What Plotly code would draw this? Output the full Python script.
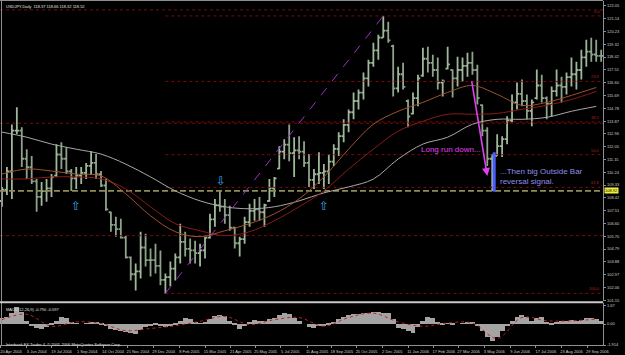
import plotly.graph_objects as go

# ---------------- data ----------------
# one bar per ~week, index 0..121 ; USDJPY from Apr 2004 to Oct 2006
highs = [109.20,110.61,113.64,114.85,113.43,111.88,111.39,109.76,109.55,109.76,
         110.11,112.23,112.37,112.02,110.47,110.61,110.61,110.89,111.74,111.53,
         110.33,109.76,107.43,107.08,106.94,105.74,104.26,103.76,106.02,105.88,
         104.82,105.17,104.68,103.05,103.90,104.47,106.58,106.02,105.53,105.38,
         105.17,105.67,107.29,108.35,108.91,108.35,107.86,106.37,105.67,107.08,
         108.00,108.35,108.49,108.00,109.76,109.90,112.09,112.59,113.64,112.73,
         112.80,112.44,111.53,110.47,111.67,110.82,111.53,112.23,113.08,114.00,
         114.70,115.90,116.12,117.32,118.23,119.43,120.00,121.34,120.92,119.29,
         117.74,118.02,115.41,115.90,117.17,119.08,119.15,118.59,118.38,116.82,
         119.15,117.53,118.45,118.38,118.73,118.80,117.88,115.06,113.43,111.53,
         112.94,112.80,114.21,115.76,116.61,116.82,115.76,115.41,117.53,117.17,
         115.62,116.33,117.53,117.03,117.32,118.38,118.09,118.94,119.65,119.79,
         119.65,118.94]
lows = [107.79,108.63,108.35,112.94,110.61,109.76,109.41,107.43,107.86,108.14,
        108.49,109.90,110.47,110.11,108.91,109.06,109.41,109.76,110.04,109.76,
        109.20,107.50,106.02,105.67,105.53,104.11,102.56,101.85,102.70,103.55,
        102.84,103.05,102.21,101.64,102.14,102.56,103.76,104.26,103.76,103.76,
        103.55,104.11,105.53,106.37,107.43,106.58,106.09,104.82,104.26,105.17,
        106.37,106.80,106.80,106.37,108.14,108.49,110.47,111.17,111.03,109.90,
        111.17,110.61,109.20,109.06,109.41,109.06,109.41,110.68,111.39,112.37,
        113.08,114.00,114.70,115.41,116.33,117.74,118.23,119.79,119.43,115.62,
        115.90,116.12,113.43,114.35,114.92,117.03,117.32,117.03,116.12,115.62,
        117.53,115.55,116.33,116.68,117.03,117.17,115.06,112.80,110.68,108.91,
        111.39,111.32,112.23,113.79,114.70,114.92,114.00,113.50,115.41,115.20,
        114.00,114.21,115.62,115.20,115.76,116.33,116.12,116.82,117.74,118.09,
        118.09,118.09]
opens = [108.2,109.0,110.3,113.2,113.2,111.2,110.6,109.6,108.5,108.9,
         109.1,110.0,111.5,111.2,110.3,109.8,110.0,110.2,110.7,110.9,
         110.1,109.3,107.4,106.5,106.2,105.6,104.2,103.0,103.2,104.9,
         104.0,104.0,103.6,102.6,102.8,103.4,104.2,105.3,104.8,104.7,
         104.5,104.7,105.6,106.9,107.9,107.8,107.2,106.3,105.2,105.5,
         106.7,107.5,107.6,107.4,108.2,109.1,110.5,111.7,112.2,111.6,
         111.8,111.7,110.9,109.7,110.1,110.2,110.3,111.0,111.9,112.8,
         113.6,114.5,115.3,115.9,116.9,118.0,118.9,119.8,120.3,119.2,
         116.2,117.2,115.3,114.4,115.5,117.1,118.3,118.0,117.5,116.6,
         117.6,117.5,116.9,117.5,117.8,118.0,117.5,115.0,113.2,111.2,
         111.4,112.1,112.6,113.9,115.2,115.8,115.3,114.6,115.5,116.4,
         115.5,115.1,116.0,116.4,116.3,117.0,117.2,117.5,118.4,118.8,
         118.6,118.5]
closes = [109.0,110.3,113.2,113.2,111.2,110.6,109.6,108.5,108.9,109.1,
          109.9,111.5,111.2,110.3,109.8,110.0,110.2,110.7,110.9,110.1,
          109.3,107.6,106.5,106.2,105.6,104.2,103.0,103.2,104.9,104.0,
          104.0,103.6,102.6,102.8,103.4,104.2,105.3,104.8,104.7,104.5,
          104.7,105.6,106.9,107.9,107.8,107.2,106.3,105.2,105.5,106.7,
          107.5,107.6,107.4,107.9,109.1,109.8,111.7,112.2,111.6,111.8,
          111.7,110.9,109.7,110.1,110.2,110.3,111.0,111.9,112.8,113.6,
          114.5,115.3,115.9,116.9,118.0,118.9,119.8,120.3,119.6,116.2,
          117.2,116.3,114.2,115.5,116.9,118.3,118.0,117.5,116.6,116.7,
          117.9,116.9,117.5,117.8,118.0,117.5,115.5,113.2,111.2,111.4,
          112.1,112.6,113.9,115.2,115.8,115.3,114.6,115.2,116.4,115.5,
          115.1,116.0,116.4,116.3,117.0,117.2,117.5,118.4,118.8,118.6,
          118.5,118.5]
bar_idx = list(range(len(closes)))

# moving averages read every 5th bar
ma_idx = list(range(0, 121, 5))
ma_fast = [110.11,110.47,110.33,110.11,109.98,108.71,107.15,106.02,105.67,106.09,
           106.59,107.29,108.35,109.91,111.88,113.65,114.57,115.20,115.91,116.40,
           115.77,114.99,115.20,115.70,116.26]
ma_mid = [109.77,109.77,109.91,109.91,109.77,109.06,107.79,106.59,106.09,105.74,
          106.02,106.80,107.79,108.92,110.47,111.88,113.16,113.86,114.36,114.36,
          114.42,114.71,114.99,115.41,115.98]
ma_slow = [113.09,112.73,112.24,111.88,111.53,110.82,109.91,108.92,108.21,107.79,
           107.65,107.79,108.21,108.78,109.20,109.76,111.18,112.24,112.73,113.65,
           114.00,114.00,114.14,114.57,114.92]

# MACD histogram and signal
macd = [0.5,0.6,1.0,1.5,1.1,0.3,-0.2,-0.4,-0.45,-0.3,
        -0.1,0.3,0.6,0.5,0.1,0.05,0.0,0.05,0.15,0.1,
        -0.05,-0.2,-0.5,-0.6,-0.65,-0.75,-0.85,-0.95,-0.6,-0.3,
        -0.2,-0.15,-0.2,-0.25,-0.2,-0.1,0.3,0.55,0.45,0.2,
        0.05,0.1,0.4,0.75,0.85,0.7,0.3,-0.1,-0.45,-0.2,
        0.2,0.35,0.3,0.25,0.4,0.55,0.8,1.0,0.9,0.5,
        0.3,0.0,-0.3,-0.35,-0.2,-0.2,-0.15,0.1,0.4,0.65,
        0.8,0.9,0.9,0.95,1.0,1.05,1.05,1.0,1.0,0.4,
        -0.4,-0.5,-0.7,-0.8,-0.3,0.3,0.6,0.5,0.2,-0.1,
        0.05,-0.05,0.0,0.05,0.1,0.15,-0.2,-0.7,-1.2,-1.6,
        -1.2,-0.7,-0.2,0.3,0.65,0.8,0.6,0.3,0.5,0.6,
        0.1,-0.1,0.15,0.3,0.3,0.35,0.3,0.35,0.5,0.55,
        0.4,0.3]
signal = [0.4,0.9,-0.2,0.2,0.05,-0.6,-0.4,-0.15,0.25,0.7,
          -0.05,0.4,0.6,-0.2,0.6,1.0,0.2,-0.2,0.1,0.1,
          -1.3,0.6,0.3,0.3,0.45]

# horizontal levels
fib_ratios = [0.0, 0.236, 0.382, 0.5, 0.618, 1.0]
fib_labels = ["0.0", "23.6", "38.2", "50.0", "61.8", "100.0"]
swing_low_i, swing_high_i = 33, 77
full_lines = [121.77, 113.72, 105.74]
support_level = 108.92
outside_bar_i = 99.4
outside_bar = [108.85, 111.67]

price_ticks = [122.05,121.14,120.23,119.32,118.42,117.51,116.60,115.69,114.78,113.87,
               112.96,112.05,111.15,110.24,109.33,108.42,107.51,106.60,105.70,104.79,
               103.88,102.97,102.06,101.15]
date_pos = [-0.2,5.0,10.0,15.2,20.4,25.4,30.6,35.8,41.0,46.2,51.2,56.2,
            61.6,66.6,71.6,76.8,82.0,87.2,92.2,97.4,102.6,107.8,113.0,118.2]
date_text = ["20 Apr 2004","3 Jun 2004","19 Jul 2004","1 Sep 2004","14 Oct 2004",
             "21 Nov 2004","29 Dec 2004","8 Feb 2005","15 Mar 2005","21 Apr 2005",
             "25 May 2005","5 Jul 2005","11 Aug 2005","18 Sep 2005","25 Oct 2005",
             "2 Dec 2005","11 Jan 2006","17 Feb 2006","27 Mar 2006","3 May 2006",
             "9 Jun 2006","17 Jul 2006","23 Aug 2006","29 Sep 2006"]

# ---------------- figure ----------------
W, H = 625, 355
XR = [-0.4, 121.4]
FONT = "Liberation Sans"
fig = go.Figure()

for lv in full_lines:
    fig.add_trace(go.Scatter(x=XR, y=[lv, lv], mode="lines",
                             line=dict(color="#7a0a0a", width=1, dash="dot"),
                             hoverinfo="skip"))
hi, lo = highs[swing_high_i], lows[swing_low_i]
for r in fib_ratios:
    lv = hi - r * (hi - lo)
    fig.add_trace(go.Scatter(x=[swing_low_i, XR[1]], y=[lv, lv], mode="lines",
                             line=dict(color="#7a0a0a", width=1, dash="dot"),
                             hoverinfo="skip"))
fig.add_trace(go.Scatter(x=XR, y=[support_level, support_level], mode="lines",
                         line=dict(color="#8e8e52", width=1.6, dash="6px,3px"),
                         hoverinfo="skip"))
fig.add_trace(go.Scatter(x=ma_idx, y=ma_slow, mode="lines",
                         line=dict(color="#a8a8a8", width=1, shape="spline"), hoverinfo="skip"))
fig.add_trace(go.Scatter(x=ma_idx, y=ma_mid, mode="lines",
                         line=dict(color="#8b1a1a", width=1, shape="spline"), hoverinfo="skip"))
fig.add_trace(go.Scatter(x=ma_idx, y=ma_fast, mode="lines",
                         line=dict(color="#a0522d", width=1, shape="spline"), hoverinfo="skip"))
fig.add_trace(go.Scatter(x=[swing_low_i, swing_high_i], y=[lo, hi], mode="lines",
                         line=dict(color="#9b30d0", width=1, dash="dash"), hoverinfo="skip"))
fig.add_trace(go.Ohlc(x=bar_idx, open=opens, high=highs, low=lows, close=closes,
                      increasing=dict(line=dict(color="#9fb89b", width=1.8)),
                      decreasing=dict(line=dict(color="#8ea48a", width=1.8)),
                      tickwidth=0.45, hoverinfo="skip"))
fig.add_trace(go.Scatter(x=[outside_bar_i, outside_bar_i], y=outside_bar, mode="lines",
                         line=dict(color="#4a5cff", width=3), hoverinfo="skip"))
fig.add_trace(go.Bar(x=bar_idx, y=macd, marker=dict(color="#a4a4a4", line=dict(width=0)),
                     width=1.0, xaxis="x2", yaxis="y2", hoverinfo="skip"))
fig.add_trace(go.Scatter(x=ma_idx, y=signal, mode="lines", xaxis="x2", yaxis="y2",
                         line=dict(color="#c02020", width=1, dash="dot", shape="spline"),
                         hoverinfo="skip"))

def py(p):  # pixel row -> paper y
    return 1 - p / H

xdom = [0, 609 / W]
fig.update_layout(
    width=W, height=H, margin=dict(l=0, r=0, t=0, b=0),
    paper_bgcolor="black", plot_bgcolor="black", showlegend=False,
    font=dict(family=FONT, color="#d0d0d0", size=4),
    xaxis=dict(domain=xdom, range=XR, anchor="y", showticklabels=False, showgrid=False,
               zeroline=False, rangeslider=dict(visible=False), matches="x2"),
    xaxis2=dict(domain=xdom, range=XR, anchor="y2", showgrid=False, zeroline=False,
                tickvals=date_pos, ticktext=date_text, ticks="outside", ticklen=2,
                tickcolor="#909090", tickfont=dict(size=4, color="#d0d0d0"),
                tickangle=0, ticklabelshift=10, ticklabelstandoff=0,
                showline=True, linecolor="#909090"),
    yaxis=dict(domain=[py(303), py(1)], range=[101.08, 122.40], side="right",
               tickvals=price_ticks, ticktext=[f"{v:.2f}" for v in price_ticks],
               ticks="outside", ticklen=2, tickcolor="#909090",
               tickfont=dict(size=4, color="#d0d0d0"), showgrid=False, zeroline=False,
               showline=True, linecolor="#909090"),
    yaxis2=dict(domain=[py(347), py(305)], range=[-1.914, 1.9], side="right",
                tickvals=[1.67, 0, -1.914], ticktext=["1.67", "0.00", "-1.914"],
                ticks="outside", ticklen=2, tickcolor="#909090",
                tickfont=dict(size=4, color="#d0d0d0"), showgrid=False, zeroline=False,
                showline=True, linecolor="#909090"),
    bargap=0,
)

shapes = [
    dict(type="line", xref="paper", yref="paper", x0=1.5 / W, x1=1.5 / W, y0=py(348), y1=1,
         line=dict(color="#909090", width=1)),
    dict(type="line", xref="paper", yref="paper", x0=0, x1=609 / W, y0=py(0.5), y1=py(0.5),
         line=dict(color="#909090", width=1)),
    dict(type="line", xref="paper", yref="paper", x0=0, x1=609 / W, y0=py(304), y1=py(304),
         line=dict(color="#c8c8c8", width=2)),
]
fig.update_layout(shapes=shapes)

ann = []
ann.append(dict(xref="paper", yref="paper", x=4 / W, y=py(2), xanchor="left", yanchor="top",
                text="USDJPY,Daily  118.37 118.66 118.32 118.52", showarrow=False,
                font=dict(size=4, color="#e0e0e0")))
ann.append(dict(xref="paper", yref="paper", x=4 / W, y=py(306.5), xanchor="left", yanchor="top",
                text="MACD(12,26,9) -0.790 -0.597", showarrow=False,
                font=dict(size=4, color="#e0e0e0")))
ann.append(dict(xref="paper", yref="paper", x=4 / W, y=py(342), xanchor="left", yanchor="top",
                text="Interbank FX Trader 4, © 2001-2006 MetaQuotes Software Corp.",
                showarrow=False, font=dict(size=4, color="#e0e0e0")))
for r, t in zip(fib_ratios, fib_labels):
    lv = hi - r * (hi - lo)
    ann.append(dict(x=121.2, y=lv, xanchor="right", yanchor="bottom", text=t, showarrow=False,
                    font=dict(size=4, color="#b02020")))
ann.append(dict(xref="paper", x=610 / W, y=support_level, xanchor="left", yanchor="middle",
                text="108.92", showarrow=False, bgcolor="#f0f040",
                font=dict(size=4, color="black"), borderpad=0))
ann.append(dict(x=98.0, y=109.98, ax=94.8, ay=116.82, axref="x", ayref="y", text="",
                showarrow=True, arrowhead=2, arrowsize=1, arrowwidth=1.6, arrowcolor="#e040f0"))
ann.append(dict(x=84.2, y=111.88, xanchor="left", yanchor="middle", text="Long run down...",
                showarrow=False, font=dict(size=8, color="#e040f0", family=FONT)))
ann.append(dict(x=100.2, y=109.94, xanchor="left", yanchor="middle", align="left",
                text="...Then big Outside Bar<br>reversal signal.", showarrow=False,
                font=dict(size=8, color="#8f8fe8", family=FONT)))
for kx, yv, t in [(15.0, 107.86, "⇧"), (65.0, 107.86, "⇧"), (44.2, 109.62, "⇩")]:
    ann.append(dict(x=kx, y=yv, text=t, showarrow=False, xanchor="center", yanchor="middle",
                    font=dict(size=12, color="#30a8f0", family="DejaVu Sans")))
fig.update_layout(annotations=ann)

fig.write_html("out.html", config={"displayModeBar": False})
